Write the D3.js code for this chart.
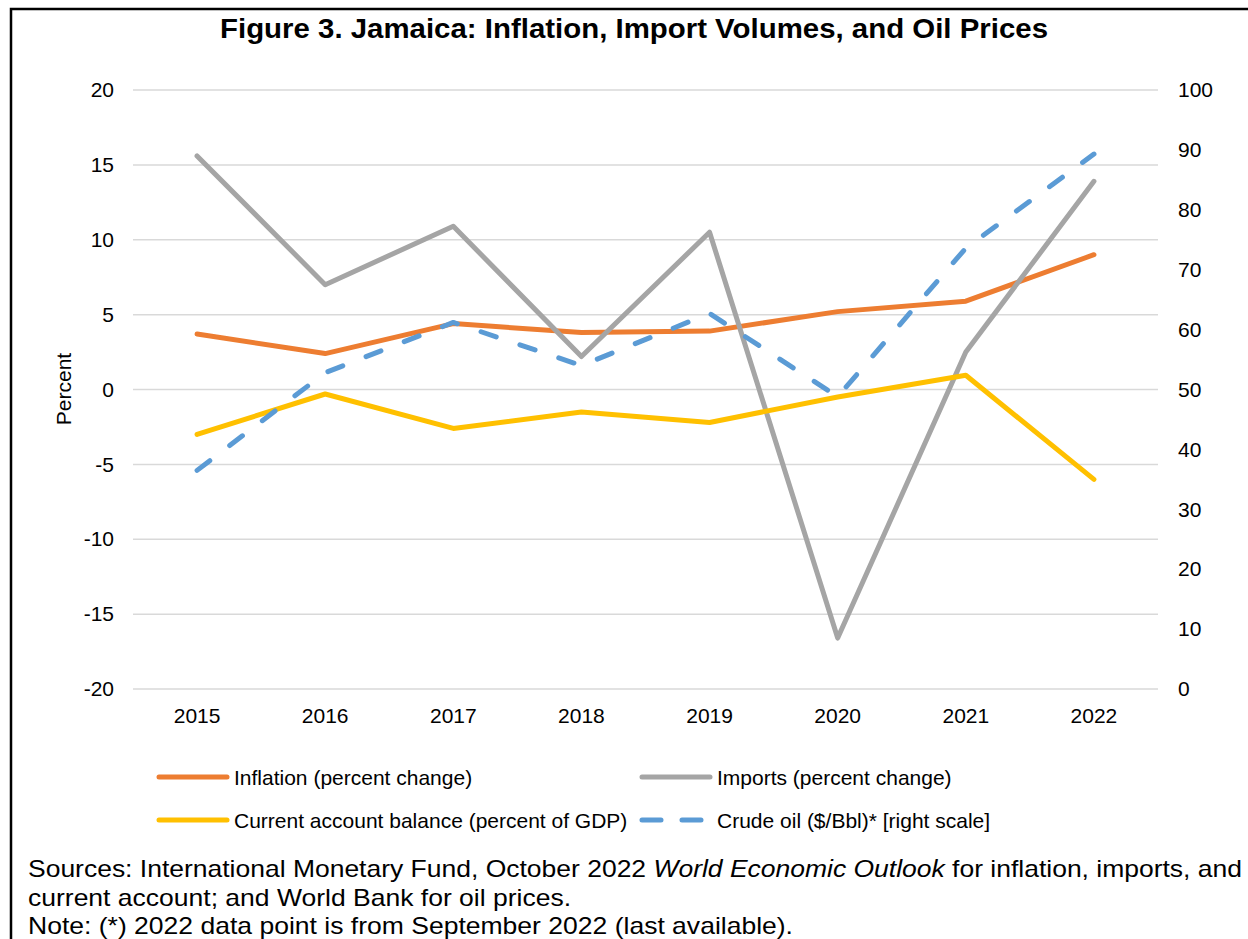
<!DOCTYPE html>
<html><head><meta charset="utf-8">
<script src="https://cdn.jsdelivr.net/npm/d3@7"></script>
<style>body{margin:0;background:#fff}svg{display:block}text{font-family:"Liberation Sans",Arial,sans-serif;fill:#000}</style>
</head><body>
<svg id="c" width="1248" height="939"></svg>
<script>
const years = ["2015","2016","2017","2018","2019","2020","2021","2022"];
const inflation = [3.7, 2.4, 4.4, 3.8, 3.9, 5.2, 5.9, 9.0];
const imports = [15.6, 7.0, 10.9, 2.2, 10.5, -16.6, 2.5, 13.9];
const currentAccount = [-3.0, -0.3, -2.6, -1.5, -2.2, -0.5, 0.95, -6.0];
const crudeOil = [36.5, 52.8, 61.2, 54.0, 62.7, 48.8, 73.6, 89.3];
const leftTicks = [20, 15, 10, 5, 0, -5, -10, -15, -20];
const rightTicks = [100, 90, 80, 70, 60, 50, 40, 30, 20, 10, 0];

const svg = d3.select("#c");
const L = 133, R = 1158, T = 90, B = 689;
const x = d3.scaleBand().domain(years).range([L, R]);
const yL = d3.scaleLinear().domain([-20, 20]).range([B, T]);
const yR = d3.scaleLinear().domain([0, 100]).range([B, T]);
const FONT = "Liberation Sans, Arial, sans-serif";

// border
svg.append("rect").attr("x", 11).attr("y", 9).attr("width", 1260).attr("height", 960)
  .attr("fill", "none").attr("stroke", "#000").attr("stroke-width", 2.5);

svg.append("text").attr("x", 634).attr("y", 38).attr("text-anchor", "middle")
  .style("font-size", "28px").style("font-weight", "bold")
  .attr("textLength", 828).attr("lengthAdjust", "spacingAndGlyphs")
  .text("Figure 3. Jamaica: Inflation, Import Volumes, and Oil Prices");

// gridlines
svg.append("g").selectAll("line").data(leftTicks).join("line")
  .attr("x1", L).attr("x2", R).attr("y1", d => yL(d)).attr("y2", d => yL(d))
  .attr("stroke", "#d9d9d9").attr("stroke-width", 1.5);

const fmt = d => String(d);
// left axis
const gl = svg.append("g").attr("transform", `translate(${L},0)`)
  .call(d3.axisLeft(yL).tickValues(leftTicks).tickSize(0).tickPadding(19).tickFormat(fmt));
gl.select(".domain").remove();
gl.selectAll("text").style("font-size", "21px").style("font-family", FONT).attr("fill", "#000");

// right axis
const gr = svg.append("g").attr("transform", `translate(${R},0)`)
  .call(d3.axisRight(yR).tickValues(rightTicks).tickSize(0).tickPadding(20).tickFormat(fmt));
gr.select(".domain").remove();
gr.selectAll("text").style("font-size", "21px").style("font-family", FONT).attr("fill", "#000");

// x axis
const gx = svg.append("g").attr("transform", `translate(0,${B})`)
  .call(d3.axisBottom(x).tickSize(0).tickPadding(19));
gx.select(".domain").remove();
gx.selectAll("text").style("font-size", "21px").style("font-family", FONT).attr("fill", "#000");

svg.append("text").attr("transform", "translate(71,389) rotate(-90)").attr("text-anchor", "middle")
  .style("font-size", "21px").text("Percent");

const cx = d => x(d) + x.bandwidth() / 2;
const series = [
  {name: "Inflation (percent change)", vals: inflation, color: "#ED7D31", scale: yL, dash: null},
  {name: "Imports (percent change)", vals: imports, color: "#A5A5A5", scale: yL, dash: null},
  {name: "Current account balance (percent of GDP)", vals: currentAccount, color: "#FFC000", scale: yL, dash: null},
  {name: "Crude oil ($/Bbl)* [right scale]", vals: crudeOil, color: "#5B9BD5", scale: yR, dash: "16,25"}
];
series.forEach(s => {
  const line = d3.line().x((d, j) => cx(years[j])).y(d => s.scale(d));
  svg.append("path").datum(s.vals).attr("d", line)
    .attr("fill", "none").attr("stroke", s.color).attr("stroke-width", 5)
    .attr("stroke-linejoin", "round").attr("stroke-linecap", "round")
    .attr("stroke-dasharray", s.dash);
});

// legend
const legPos = [[159, 777], [642, 777], [159, 820], [642, 820]];
series.forEach((s, i) => {
  const [lx, ly] = legPos[i];
  svg.append("line").attr("x1", lx).attr("x2", lx + 68).attr("y1", ly).attr("y2", ly)
    .attr("stroke", s.color).attr("stroke-width", 5).attr("stroke-linecap", "round")
    .attr("stroke-dasharray", s.dash ? "19,21" : null);
  svg.append("text").attr("x", lx + 75).attr("y", ly + 7.5).style("font-size", "21px").text(s.name);
});

// sources
const src = svg.append("text").attr("x", 28).attr("y", 877).style("font-size", "24px")
  .attr("textLength", 1214).attr("lengthAdjust", "spacingAndGlyphs");
src.append("tspan").text("Sources: International Monetary Fund, October 2022 ");
src.append("tspan").style("font-style", "italic").text("World Economic Outlook");
src.append("tspan").text(" for inflation, imports, and");
svg.append("text").attr("x", 28).attr("y", 906).style("font-size", "24px")
  .attr("textLength", 543).attr("lengthAdjust", "spacingAndGlyphs")
  .text("current account; and World Bank for oil prices.");
svg.append("text").attr("x", 28).attr("y", 934).style("font-size", "24px")
  .attr("textLength", 765).attr("lengthAdjust", "spacingAndGlyphs")
  .text("Note: (*) 2022 data point is from September 2022 (last available).");
</script>
</body></html>
